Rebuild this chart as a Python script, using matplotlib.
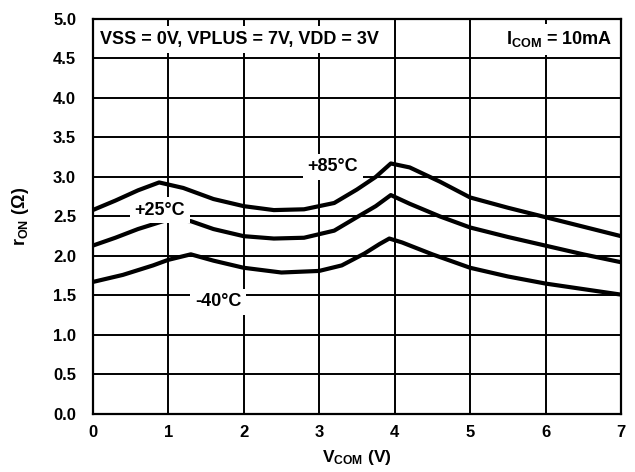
import matplotlib
matplotlib.use("Agg")
import matplotlib.pyplot as plt

plt.rcParams['font.family'] = ['Liberation Sans', 'DejaVu Sans']
plt.rcParams['font.weight'] = 'bold'
plt.rcParams['mathtext.fontset'] = 'custom'
plt.rcParams['mathtext.rm'] = 'Liberation Sans:bold'
plt.rcParams['mathtext.bf'] = 'Liberation Sans:bold'
plt.rcParams['mathtext.it'] = 'Liberation Sans:bold'
plt.rcParams['mathtext.sf'] = 'Liberation Sans'

# curves
x_85 = [0, 0.3, 0.6, 0.88, 1.2, 1.6, 2.0, 2.4, 2.8, 3.2, 3.5, 3.75, 3.95, 4.2, 4.6, 5.0, 5.5, 6.0, 6.5, 7.0]
r_85 = [2.58, 2.7, 2.83, 2.93, 2.86, 2.72, 2.63, 2.58, 2.59, 2.67, 2.84, 3.0, 3.17, 3.12, 2.94, 2.74, 2.61, 2.49, 2.37, 2.25]

x_25 = [0, 0.3, 0.6, 1.0, 1.3, 1.6, 2.0, 2.4, 2.8, 3.2, 3.5, 3.75, 3.95, 4.2, 4.6, 5.0, 5.5, 6.0, 6.5, 7.0]
r_25 = [2.13, 2.23, 2.34, 2.46, 2.44, 2.34, 2.25, 2.22, 2.23, 2.32, 2.49, 2.63, 2.77, 2.66, 2.5, 2.36, 2.24, 2.13, 2.02, 1.92]

x_m40 = [0, 0.4, 0.8, 1.0, 1.3, 1.6, 2.0, 2.5, 3.0, 3.3, 3.6, 3.8, 3.93, 4.1, 4.5, 5.0, 5.5, 6.0, 6.5, 7.0]
r_m40 = [1.67, 1.76, 1.88, 1.95, 2.02, 1.94, 1.85, 1.79, 1.81, 1.88, 2.03, 2.15, 2.22, 2.17, 2.02, 1.85, 1.74, 1.65, 1.58, 1.51]

x_ticks = [0, 1, 2, 3, 4, 5, 6, 7]
y_ticks = [0.0, 0.5, 1.0, 1.5, 2.0, 2.5, 3.0, 3.5, 4.0, 4.5, 5.0]

fig = plt.figure(figsize=(6.35, 4.72), dpi=100)
ax = fig.add_axes([0.146, 0.123, 0.832, 0.837])

for xs, ys in [(x_85, r_85), (x_25, r_25), (x_m40, r_m40)]:
    ax.plot(xs, ys, color='black', lw=3, zorder=3, solid_capstyle='butt')

ax.set_xlim(0, 7)
ax.set_ylim(0, 5)
ax.set_xticks(x_ticks)
ax.set_yticks(y_ticks)
ax.set_xticklabels([str(v) for v in x_ticks], fontsize=12, fontweight='bold')
ax.set_yticklabels(['%.1f' % v for v in y_ticks], fontsize=12, fontweight='bold')
ax.tick_params(axis='x', length=0, pad=8)
ax.tick_params(axis='y', length=0, pad=12)
ax.grid(True, color='black', lw=1.4, zorder=1)
ax.set_axisbelow(True)
for s in ax.spines.values():
    s.set_linewidth(1.6)

ax.set_xlabel(r'V$_{\mathbf{COM}}$ (V)', fontsize=12.5, fontweight='bold', labelpad=6)
ax.set_ylabel(r'r$_{\mathbf{ON}}$ ($\mathsf{\Omega}$)', fontsize=13, fontweight='bold', labelpad=16)

box = dict(boxstyle='square,pad=0.3', fc='white', ec='none')
ax.text(0.1, 4.74, 'VSS = 0V, VPLUS = 7V, VDD = 3V', fontsize=13, fontweight='bold',
        ha='left', va='center', bbox=box, zorder=4)
ax.text(6.88, 4.74, r'I$_{\mathbf{COM}}$ = 10mA', fontsize=13, fontweight='bold',
        ha='right', va='center', bbox=box, zorder=4)

lbox = dict(boxstyle='square,pad=0.25', fc='white', ec='none')
ax.text(3.18, 3.13, '+85°C', fontsize=13, fontweight='bold', ha='center', va='center', bbox=lbox, zorder=4)
ax.text(0.89, 2.58, '+25°C', fontsize=13, fontweight='bold', ha='center', va='center', bbox=lbox, zorder=4)
ax.text(1.66, 1.42, '-40°C', fontsize=13, fontweight='bold', ha='center', va='center', bbox=lbox, zorder=4)

fig.savefig('out.png', dpi=100)
